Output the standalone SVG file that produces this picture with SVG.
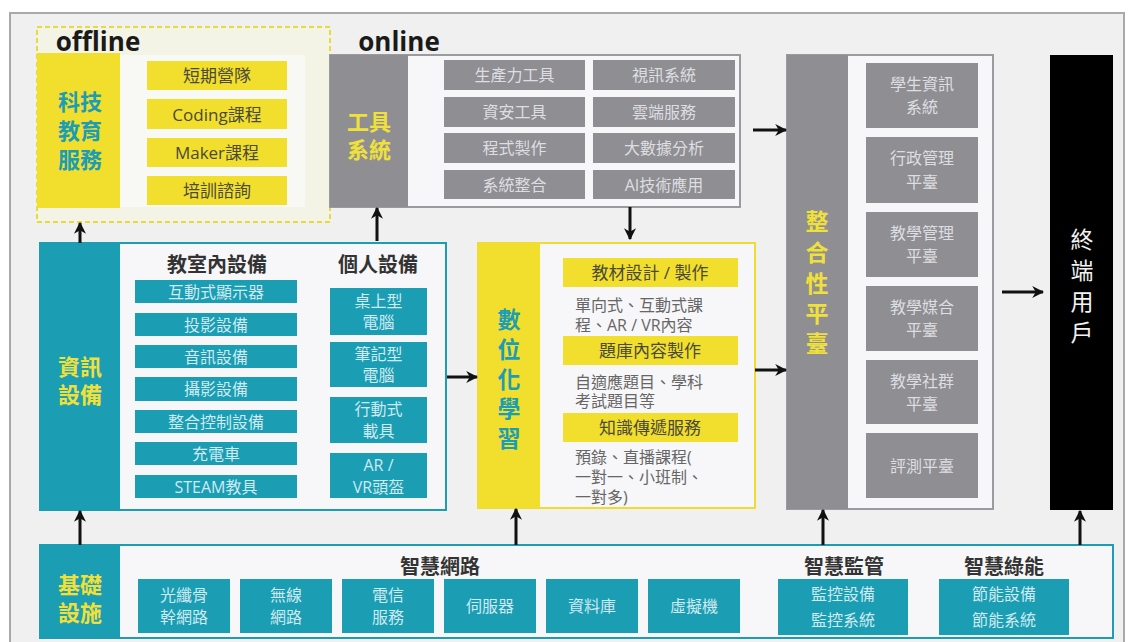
<svg xmlns="http://www.w3.org/2000/svg" width="1136" height="642" viewBox="0 0 1136 642">
<defs>
<marker id="ah" viewBox="0 0 10 10" refX="9" refY="5" markerWidth="4" markerHeight="4" orient="auto" markerUnits="strokeWidth">
<path d="M0,0 L10,5 L0,10 L3,5 Z" fill="#111"/>
</marker>
<style>
text{font-family:"Open Sans","Noto Sans CJK TC",sans-serif;text-anchor:middle;dominant-baseline:central}
.cn{font-family:"Noto Sans CJK TC",sans-serif}
.teal{fill:#1b9db3}
.yel{fill:#f2de2c}
.gry{fill:#8e8e93}
.box{fill:#f7f7f9}
.lblY{fill:#f0e03a;font-size:22px;font-weight:bold}
.lblT{fill:#1b9db3;font-size:22px;font-weight:bold}
.vY{fill:#f0e03a;font-size:23px;font-weight:bold}
.vT{fill:#1b9db3;font-size:23px;font-weight:bold}
.vW{fill:#f2f2f2;font-size:23px}
.ti{fill:#cfeaf0;font-size:16px}
.gi{fill:#dedee0;font-size:16px}
.yi{fill:#4a4a3a;font-size:17px}
.hd{fill:#333;font-size:20px;font-weight:bold}
.ds{fill:#666;font-size:16px;text-anchor:start}
.conn line{stroke:#111;stroke-width:3;marker-end:url(#ah)}
</style>
</defs>
<rect x="0" y="0" width="1136" height="642" fill="#ffffff"/>
<rect x="10" y="13" width="1114" height="650" fill="#f0f0f0" stroke="#a9a9a9" stroke-width="2"/>

<g id="offline">
<rect x="37" y="27" width="293" height="195" fill="#f3f3e6" stroke="#e6da3c" stroke-width="2" stroke-dasharray="5,3"/>
<text x="98" y="41" style="font-size:26px;font-weight:bold;fill:#1a1a1a">offline</text>
<rect x="37" y="53" width="83" height="155" class="yel"/>
<rect x="120" y="55" width="185" height="152" fill="#f8f8f4"/>
<text x="80" y="100" class="cn lblT"><tspan x="80" y="100">科技</tspan><tspan x="80" y="129">教育</tspan><tspan x="80" y="158">服務</tspan></text>
<rect x="147" y="61" width="140" height="29" class="yel"/>
<text x="217" y="75.5" class="yi">短期營隊</text>
<rect x="147" y="99" width="140" height="30" class="yel"/>
<text x="217" y="114" class="yi">Coding課程</text>
<rect x="147" y="138" width="140" height="29" class="yel"/>
<text x="217" y="152.5" class="yi">Maker課程</text>
<rect x="147" y="176" width="140" height="29" class="yel"/>
<text x="217" y="190.5" class="yi">培訓諮詢</text>
</g>

<g id="tools">
<text x="399" y="41" style="font-size:26px;font-weight:bold;fill:#1a1a1a">online</text>
<rect x="330" y="55" width="410" height="152" class="box" stroke="#9b9b9f" stroke-width="2"/>
<rect x="330" y="55" width="78" height="152" class="gry"/>
<text x="369" y="120" class="cn lblY"><tspan x="369" y="120">工具</tspan><tspan x="369" y="148">系統</tspan></text>
<rect x="444" y="60" width="141" height="30" class="gry"/>
<text x="514.5" y="75" class="gi">生產力工具</text>
<rect x="444" y="97" width="141" height="30" class="gry"/>
<text x="514.5" y="112" class="gi">資安工具</text>
<rect x="444" y="133" width="141" height="30" class="gry"/>
<text x="514.5" y="148" class="gi">程式製作</text>
<rect x="444" y="170" width="141" height="29" class="gry"/>
<text x="514.5" y="184.5" class="gi">系統整合</text>
<rect x="593" y="60" width="142" height="30" class="gry"/>
<text x="664" y="75" class="gi">視訊系統</text>
<rect x="593" y="97" width="142" height="30" class="gry"/>
<text x="664" y="112" class="gi">雲端服務</text>
<rect x="593" y="133" width="142" height="30" class="gry"/>
<text x="664" y="148" class="gi">大數據分析</text>
<rect x="593" y="170" width="142" height="29" class="gry"/>
<text x="664" y="184.5" class="gi">AI技術應用</text>
</g>

<g id="platform">
<rect x="787" y="55" width="206" height="454" class="box" stroke="#9b9b9f" stroke-width="2"/>
<rect x="787" y="55" width="61" height="454" class="gry"/>
<text x="817" y="220" class="cn vY"><tspan x="817" y="220">整</tspan><tspan x="817" y="251">合</tspan><tspan x="817" y="282">性</tspan><tspan x="817" y="312">平</tspan><tspan x="817" y="342">臺</tspan></text>
<rect x="866" y="63" width="112" height="65" class="gry"/>
<text x="922" y="84" class="gi"><tspan x="922" y="84">學生資訊</tspan><tspan x="922" y="107">系統</tspan></text>
<rect x="866" y="137" width="112" height="66" class="gry"/>
<text x="922" y="158" class="gi"><tspan x="922" y="158">行政管理</tspan><tspan x="922" y="182">平臺</tspan></text>
<rect x="866" y="212" width="112" height="65" class="gry"/>
<text x="922" y="233" class="gi"><tspan x="922" y="233">教學管理</tspan><tspan x="922" y="256">平臺</tspan></text>
<rect x="866" y="286" width="112" height="65" class="gry"/>
<text x="922" y="307" class="gi"><tspan x="922" y="307">教學媒合</tspan><tspan x="922" y="330">平臺</tspan></text>
<rect x="866" y="360" width="112" height="64" class="gry"/>
<text x="922" y="381" class="gi"><tspan x="922" y="381">教學社群</tspan><tspan x="922" y="404">平臺</tspan></text>
<rect x="866" y="433" width="112" height="65" class="gry"/>
<text x="922" y="465.5" class="gi">評測平臺</text>
</g>

<g id="enduser">
<rect x="1050" y="55" width="63" height="455" fill="#000"/>
<text x="1082" y="238" class="cn vW"><tspan x="1082" y="238">終</tspan><tspan x="1082" y="269">端</tspan><tspan x="1082" y="300">用</tspan><tspan x="1082" y="331">戶</tspan></text>
</g>

<g id="devices">
<rect x="40" y="243" width="406" height="267" class="box" stroke="#1b9db3" stroke-width="2"/>
<rect x="40" y="243" width="80" height="267" class="teal"/>
<text x="80" y="365" class="cn lblY"><tspan x="80" y="365">資訊</tspan><tspan x="80" y="393">設備</tspan></text>
<text x="217" y="263" class="cn hd">教室內設備</text>
<text x="378" y="263" class="cn hd">個人設備</text>
<rect x="135" y="280" width="162" height="23" class="teal"/>
<text x="216" y="291.5" class="ti">互動式顯示器</text>
<rect x="135" y="313" width="162" height="23" class="teal"/>
<text x="216" y="324.5" class="ti">投影設備</text>
<rect x="135" y="345" width="162" height="23" class="teal"/>
<text x="216" y="356.5" class="ti">音訊設備</text>
<rect x="135" y="377" width="162" height="24" class="teal"/>
<text x="216" y="389" class="ti">攝影設備</text>
<rect x="135" y="410" width="162" height="23" class="teal"/>
<text x="216" y="421.5" class="ti">整合控制設備</text>
<rect x="135" y="442" width="162" height="23" class="teal"/>
<text x="216" y="453.5" class="ti">充電車</text>
<rect x="135" y="475" width="162" height="23" class="teal"/>
<text x="216" y="486.5" class="ti">STEAM教具</text>
<rect x="330" y="288" width="97" height="47" class="teal"/>
<text x="378.5" y="301" class="ti"><tspan x="378.5" y="301">桌上型</tspan><tspan x="378.5" y="322">電腦</tspan></text>
<rect x="330" y="342" width="97" height="45" class="teal"/>
<text x="378.5" y="354" class="ti"><tspan x="378.5" y="354">筆記型</tspan><tspan x="378.5" y="375">電腦</tspan></text>
<rect x="330" y="397" width="97" height="46" class="teal"/>
<text x="378.5" y="409" class="ti"><tspan x="378.5" y="409">行動式</tspan><tspan x="378.5" y="431">載具</tspan></text>
<rect x="330" y="453" width="97" height="45" class="teal"/>
<text x="378.5" y="465" class="ti"><tspan x="378.5" y="465">AR /</tspan><tspan x="378.5" y="487">VR頭盔</tspan></text>
</g>

<g id="digital">
<rect x="478" y="243" width="277" height="265" class="box" stroke="#f0dc30" stroke-width="2"/>
<rect x="478" y="243" width="62" height="265" class="yel"/>
<text x="509" y="318" class="cn vT"><tspan x="509" y="318">數</tspan><tspan x="509" y="348">位</tspan><tspan x="509" y="378">化</tspan><tspan x="509" y="407">學</tspan><tspan x="509" y="437">習</tspan></text>
<rect x="563" y="258" width="175" height="29" class="yel"/>
<text x="650" y="272.5" class="yi">教材設計 / 製作</text>
<text x="575" y="305" class="ds"><tspan x="575" y="305">單向式、互動式課</tspan><tspan x="575" y="325">程、AR / VR內容</tspan></text>
<rect x="563" y="336" width="175" height="29" class="yel"/>
<text x="650" y="350.5" class="yi">題庫內容製作</text>
<text x="575" y="382" class="ds"><tspan x="575" y="382">自適應題目、學科</tspan><tspan x="575" y="401">考試題目等</tspan></text>
<rect x="563" y="413" width="175" height="29" class="yel"/>
<text x="650" y="427.5" class="yi">知識傳遞服務</text>
<text x="575" y="457" class="ds"><tspan x="575" y="457">預錄、直播課程(</tspan><tspan x="575" y="477">一對一、小班制、</tspan><tspan x="575" y="497">一對多)</tspan></text>
</g>

<g id="infra">
<rect x="40" y="545" width="1073" height="93" class="box" stroke="#1b9db3" stroke-width="2"/>
<rect x="40" y="545" width="80" height="93" class="teal"/>
<text x="80" y="583" class="cn lblY"><tspan x="80" y="583">基礎</tspan><tspan x="80" y="611">設施</tspan></text>
<text x="440" y="565" class="cn hd">智慧網路</text>
<text x="844" y="565" class="cn hd">智慧監管</text>
<text x="1004" y="565" class="cn hd">智慧綠能</text>
<rect x="138" y="579" width="92" height="54" class="teal"/>
<text x="184" y="595" class="ti"><tspan x="184" y="595">光纖骨</tspan><tspan x="184" y="617">幹網路</tspan></text>
<rect x="240" y="579" width="92" height="54" class="teal"/>
<text x="286" y="595" class="ti"><tspan x="286" y="595">無線</tspan><tspan x="286" y="617">網路</tspan></text>
<rect x="342" y="579" width="92" height="54" class="teal"/>
<text x="388" y="595" class="ti"><tspan x="388" y="595">電信</tspan><tspan x="388" y="617">服務</tspan></text>
<rect x="444" y="579" width="92" height="54" class="teal"/>
<text x="490" y="606" class="ti">伺服器</text>
<rect x="546" y="579" width="92" height="54" class="teal"/>
<text x="592" y="606" class="ti">資料庫</text>
<rect x="648" y="579" width="92" height="54" class="teal"/>
<text x="694" y="606" class="ti">虛擬機</text>
<rect x="778" y="579" width="130" height="56" class="teal"/>
<text x="843" y="594" class="ti"><tspan x="843" y="594">監控設備</tspan><tspan x="843" y="620">監控系統</tspan></text>
<rect x="939" y="579" width="130" height="56" class="teal"/>
<text x="1004" y="594" class="ti"><tspan x="1004" y="594">節能設備</tspan><tspan x="1004" y="620">節能系統</tspan></text>
</g>

<g id="connectors" class="conn">
<line x1="80" y1="243" x2="80" y2="223"/>
<line x1="377" y1="241" x2="377" y2="208"/>
<line x1="630" y1="207" x2="630" y2="239"/>
<line x1="753" y1="130" x2="786" y2="130"/>
<line x1="447" y1="377" x2="477" y2="377"/>
<line x1="755" y1="370" x2="786" y2="370"/>
<line x1="1002" y1="292" x2="1043" y2="292"/>
<line x1="80" y1="545" x2="80" y2="511"/>
<line x1="516" y1="545" x2="516" y2="509"/>
<line x1="823" y1="545" x2="823" y2="510"/>
<line x1="1080" y1="545" x2="1080" y2="511"/>
</g>
</svg>
